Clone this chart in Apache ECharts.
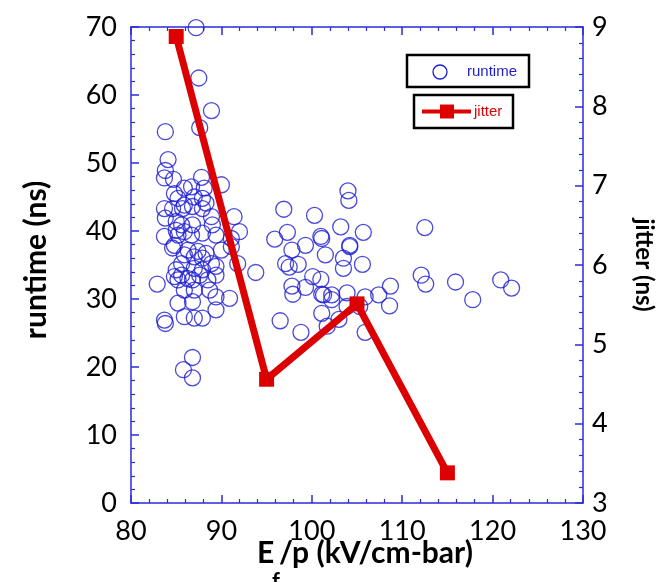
<!DOCTYPE html>
<html>
<head>
<meta charset="utf-8">
<script src="https://cdn.jsdelivr.net/npm/echarts@6/dist/echarts.min.js"></script>
<style>html,body{margin:0;padding:0;background:#fff;}#c{width:664px;height:582px;}</style>
</head>
<body>
<div id="c"></div>
<script>
// E_f/p (kV/cm-bar) vs runtime (ns)
var runtimePoints = [
 [87.2,69.9],[87.5,62.5],[88.9,57.7],[87.6,55.2],[83.8,54.6],[84.1,50.5],[83.8,48.9],[83.7,47.8],[84.7,47.6],[87.8,47.9],
 [90.0,46.8],[86.7,46.5],[85.9,46.3],[88.1,46.3],[84.8,45.5],[85.2,44.8],[87.0,45.0],[87.9,44.8],[85.9,43.8],[83.7,43.3],
 [84.6,43.3],[85.7,43.3],[86.8,43.6],[88.3,44.1],[87.9,43.3],[88.9,42.1],[91.4,42.1],[83.8,41.9],[85.0,41.4],[85.6,40.9],
 [86.8,40.9],[89.0,40.9],[85.9,39.9],[85.0,40.1],[83.7,39.2],[85.2,39.4],[86.7,39.4],[87.9,39.7],[89.4,39.4],[92.0,39.9],
 [91.1,38.9],[84.8,37.9],[84.6,37.5],[86.3,37.2],[87.4,37.0],[88.3,36.7],[90.0,37.2],[91.1,37.7],[85.9,36.5],[87.0,36.2],
 [87.9,36.0],[85.6,35.2],[88.9,35.2],[91.8,35.2],[85.0,34.3],[87.0,34.5],[87.9,34.3],[89.4,34.8],[84.8,33.3],[85.6,33.5],
 [86.3,33.0],[87.6,33.5],[89.4,33.5],[82.9,32.2],[85.2,32.8],[86.8,32.8],[88.5,32.8],[85.9,31.3],[87.0,31.3],[88.7,31.3],
 [89.4,30.3],[90.9,30.1],[85.2,29.4],[86.8,29.6],[89.4,28.4],[85.9,27.4],[87.0,27.2],[87.9,27.2],[83.7,26.9],[83.8,26.4],
 [86.8,21.4],[85.8,19.6],[86.8,18.4],
 [96.9,43.2],[100.3,42.3],[104.0,45.9],[104.1,44.5],[103.2,40.6],[105.7,39.8],[95.9,38.8],[97.3,39.8],[99.3,37.9],[101.0,39.2],
 [101.1,38.9],[104.2,37.9],[104.2,37.7],[97.8,37.2],[101.5,36.5],[103.5,36.0],[103.5,34.5],[105.6,35.1],[97.1,35.2],[97.5,34.7],
 [98.5,35.1],[93.8,33.9],[100.1,33.3],[101.0,32.9],[97.8,31.9],[97.9,30.7],[99.3,31.7],[101.1,30.7],[101.3,30.6],[102.2,30.6],
 [102.2,29.9],[103.9,30.9],[105.9,30.3],[107.4,30.6],[108.7,31.9],[108.6,29.0],[105.3,28.9],[103.9,28.9],[103.0,27.0],[101.1,27.9],
 [101.7,26.0],[96.5,26.8],[98.8,25.1],[105.9,25.1],
 [112.5,40.5],[112.1,33.5],[112.6,32.2],[115.9,32.5],[117.8,29.9],[120.9,32.8],[122.1,31.6]
];
var jitterX = [85, 95, 105, 115];
var jitterValues = [8.88, 4.56, 5.51, 3.38];
var xTicks = {min: 80, max: 130, step: 10};
var runtimeTicks = {min: 0, max: 70, step: 10};
var jitterTicks = {min: 3, max: 9, step: 1};

var axisBlue = '#2b2bdc';
var markBlue = '#1c1cd2';
var red = '#dd0000';
var tickFont = {fontFamily: 'Lato', fontSize: 27, color: '#000'};

var chart = echarts.init(document.getElementById('c'), null, {renderer: 'canvas'});

function axisCommon(){
  return {
    axisLine: {show: true, onZero: false, lineStyle: {color: axisBlue, width: 1.5}},
    axisTick: {show: true, inside: true, length: 8, lineStyle: {color: axisBlue, width: 1.5}},
    minorTick: {show: true, splitNumber: 5, length: 4, lineStyle: {color: axisBlue, width: 1.2}},
    splitLine: {show: false}
  };
}

var option = {
  animation: false,
  backgroundColor: '#fff',
  grid: {left: 131, right: 81, top: 27, bottom: 79, containLabel: false},
  xAxis: [
    Object.assign(axisCommon(), {type: 'value', position: 'bottom', min: xTicks.min, max: xTicks.max, interval: xTicks.step,
      axisLabel: Object.assign({margin: 15}, tickFont)}),
    Object.assign(axisCommon(), {type: 'value', position: 'top', min: xTicks.min, max: xTicks.max, interval: xTicks.step,
      axisLabel: {show: false}})
  ],
  yAxis: [
    Object.assign(axisCommon(), {type: 'value', position: 'left', min: runtimeTicks.min, max: runtimeTicks.max, interval: runtimeTicks.step,
      axisLabel: Object.assign({margin: 14}, tickFont)}),
    Object.assign(axisCommon(), {type: 'value', position: 'right', min: jitterTicks.min, max: jitterTicks.max, interval: jitterTicks.step,
      axisLabel: Object.assign({margin: 9}, tickFont)})
  ],
  series: [
    {
      name: 'runtime', type: 'scatter', xAxisIndex: 0, yAxisIndex: 0,
      symbol: 'circle', symbolSize: 16,
      itemStyle: {color: 'rgba(0,0,0,0)', borderColor: markBlue, borderWidth: 1.3},
      data: runtimePoints
    },
    {
      name: 'jitter', type: 'line', xAxisIndex: 0, yAxisIndex: 1,
      symbol: 'rect', symbolSize: 15,
      lineStyle: {color: red, width: 7},
      itemStyle: {color: red},
      z: 3,
      data: jitterX.map(function(x, i){ return [x, jitterValues[i]]; })
    }
  ],
  graphic: [
    {type: 'text', x: 36, y: 260, rotation: Math.PI/2,
     style: {text: 'runtime (ns)', fontFamily: 'Lato', fontWeight: 'bold', fontSize: 30, fill: '#000', align: 'center', verticalAlign: 'middle'}},
    {type: 'text', x: 644, y: 265, rotation: -Math.PI/2,
     style: {text: 'jitter (ns)', fontFamily: 'Lato', fontWeight: 'bold', fontSize: 24, fill: '#000', align: 'center', verticalAlign: 'middle'}},
    {type: 'text', x: 257, y: 553,
     style: {text: 'E', fontFamily: 'Lato', fontWeight: 'bold', fontSize: 30, fill: '#000', align: 'left', verticalAlign: 'middle'}},
    {type: 'text', x: 272, y: 582,
     style: {text: 'f', fontFamily: 'Lato', fontWeight: 'bold', fontSize: 22, fill: '#000', align: 'left', verticalAlign: 'middle'}},
    {type: 'text', x: 279, y: 553,
     style: {text: '/p (kV/cm-bar)', fontFamily: 'Lato', fontWeight: 'bold', fontSize: 30, fill: '#000', align: 'left', verticalAlign: 'middle'}},
    // legend boxes
    {type: 'rect', shape: {x: 407, y: 55, width: 122, height: 32},
     style: {fill: '#fff', stroke: '#000', lineWidth: 2.5}, z: 10},
    {type: 'circle', shape: {cx: 440, cy: 72, r: 7},
     style: {fill: 'none', stroke: markBlue, lineWidth: 1.3}, z: 11},
    {type: 'text', x: 467, y: 72, z: 11,
     style: {text: 'runtime', fontFamily: 'Liberation Sans', fontSize: 15, fill: markBlue, align: 'left', verticalAlign: 'middle'}},
    {type: 'rect', shape: {x: 414, y: 95, width: 99, height: 33},
     style: {fill: '#fff', stroke: '#000', lineWidth: 2.5}, z: 10},
    {type: 'line', shape: {x1: 422, y1: 111.5, x2: 471, y2: 111.5},
     style: {stroke: red, lineWidth: 4}, z: 11},
    {type: 'rect', shape: {x: 440, y: 104.5, width: 14, height: 14},
     style: {fill: red}, z: 12},
    {type: 'text', x: 474, y: 112, z: 11,
     style: {text: 'jitter', fontFamily: 'Liberation Sans', fontSize: 15, fill: red, align: 'left', verticalAlign: 'middle'}}
  ]
};
chart.setOption(option);
</script>
</body>
</html>
